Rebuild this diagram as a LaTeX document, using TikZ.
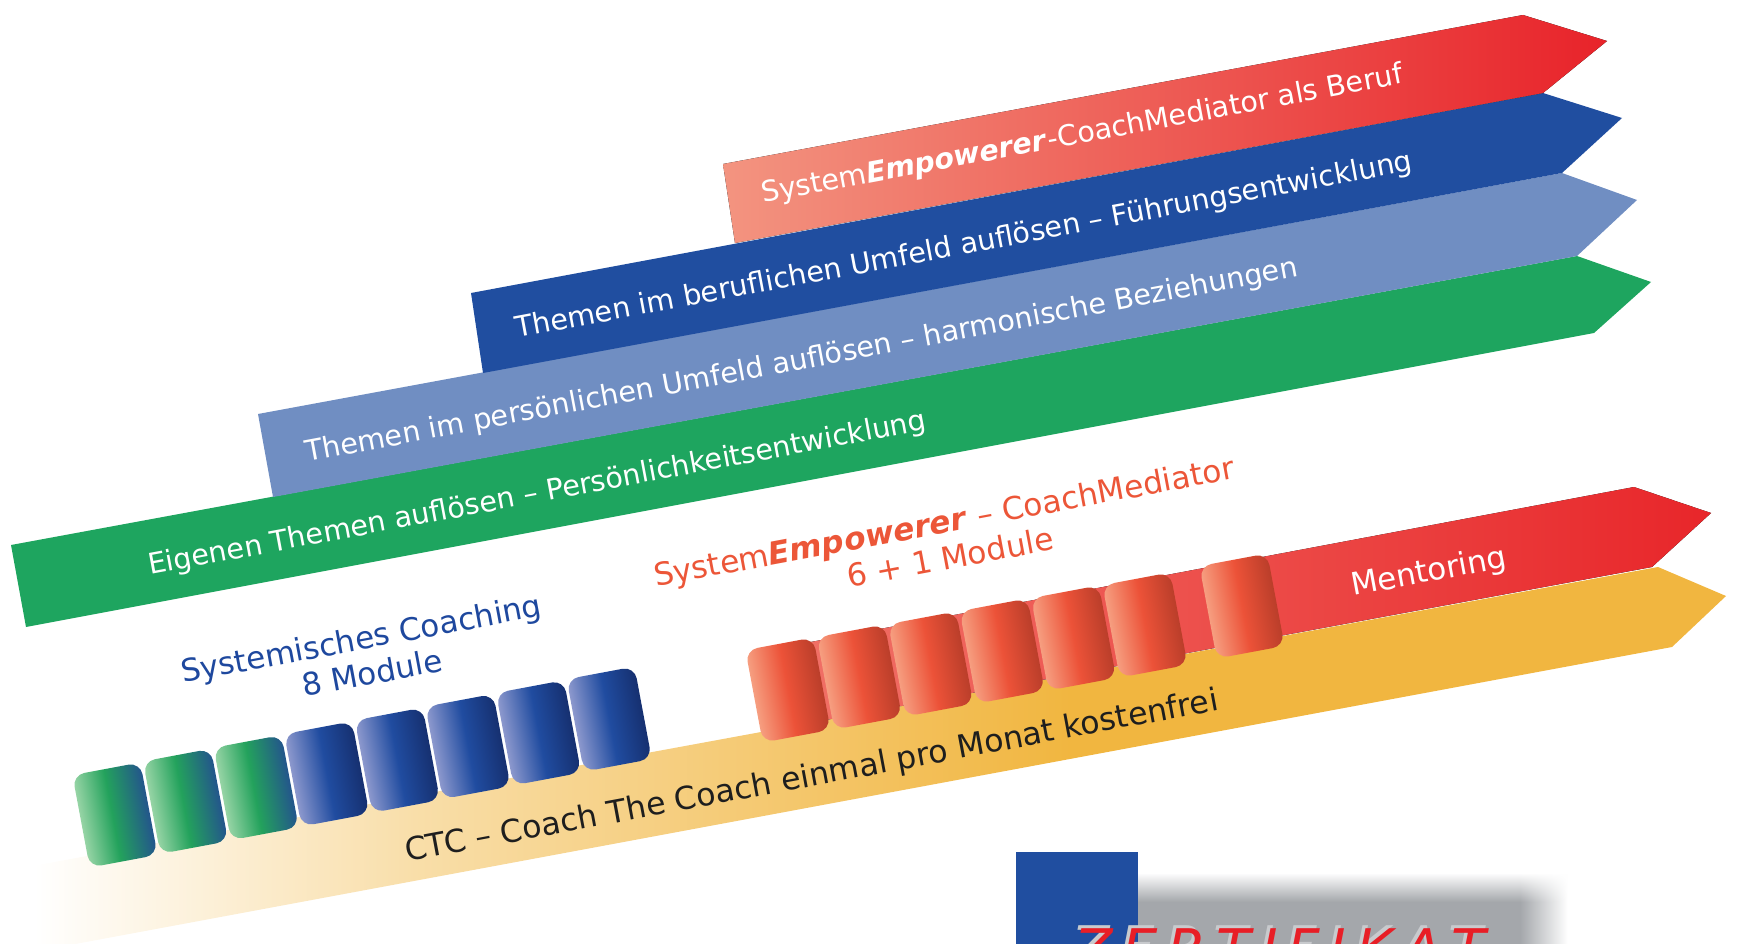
\documentclass[tikz,border=0pt]{standalone}
\usepackage{fontspec}
\setmainfont{DejaVu Sans}
\usetikzlibrary{fadings}
\definecolor{rbL}{RGB}{243,148,128}
\definecolor{rbR}{RGB}{232,35,42}
\definecolor{dblue}{RGB}{32,78,160}
\definecolor{lblue}{RGB}{112,142,194}
\definecolor{gbar}{RGB}{30,165,95}
\definecolor{mentL}{RGB}{240,112,102}
\definecolor{mentR}{RGB}{232,38,42}
\definecolor{oran}{RGB}{241,182,64}
\colorlet{oranhalf}{oran!45!white}
\definecolor{bmL}{RGB}{140,152,205}
\definecolor{bmM}{RGB}{32,76,160}
\definecolor{bmR}{RGB}{22,48,112}
\definecolor{gmL}{RGB}{150,212,165}
\definecolor{gmM}{RGB}{35,162,92}
\definecolor{gmR}{RGB}{35,85,140}
\definecolor{rmL}{RGB}{246,158,128}
\definecolor{rmM}{RGB}{236,82,56}
\definecolor{rmR}{RGB}{186,62,42}
\definecolor{ctxt}{RGB}{30,72,158}
\definecolor{otxt}{RGB}{236,86,56}
\definecolor{dtxt}{RGB}{30,30,30}
\definecolor{cgrey}{RGB}{164,167,171}
\definecolor{zred}{RGB}{232,30,38}
\definecolor{zshadow}{RGB}{200,202,205}
\pgfdeclarehorizontalshading{bluemod}{100bp}{color(0bp)=(bmL); color(25bp)=(bmL); color(50bp)=(bmM); color(75bp)=(bmR); color(100bp)=(bmR)}
\pgfdeclarehorizontalshading{greenmod}{100bp}{color(0bp)=(gmL); color(25bp)=(gmL); color(48bp)=(gmM); color(75bp)=(gmR); color(100bp)=(gmR)}
\pgfdeclarehorizontalshading{redmod}{100bp}{color(0bp)=(rmL); color(25bp)=(rmL); color(50bp)=(rmM); color(75bp)=(rmR); color(100bp)=(rmR)}
\pgfdeclarehorizontalshading{orfade}{100bp}{color(0bp)=(white); color(25bp)=(white); color(26bp)=(white); color(37bp)=(oranhalf); color(56bp)=(oran); color(100bp)=(oran)}
\pgfdeclarehorizontalshading{greyfade}{100bp}{color(0bp)=(cgrey); color(25bp)=(cgrey); color(69bp)=(cgrey); color(74.5bp)=(white); color(100bp)=(white)}
\tikzfading[name=topwhite, top color=transparent!0, bottom color=transparent!100]
\tikzset{
  bartext/.style={text=white, anchor=base west, inner sep=0pt, rotate=10.6, font=\fontsize{28.6}{34}\selectfont},
  lowtext/.style={anchor=base west, inner sep=0pt, rotate=10.6, font=\fontsize{31}{36}\selectfont},
  ztext/.style={anchor=base west, inner sep=0pt, font=\fontsize{56}{60}\selectfont\itshape},
}
\newcommand{\modbox}[3]{%
  \begin{scope}[transform canvas={shift={(#1,#2)}, rotate=10.6}]
    \path[shading=#3, rounded corners=12pt] (-34.5,-47) rectangle (34.5,47);
  \end{scope}}
\newcommand{\zword}{Z\kern10pt E\kern10pt R\kern10pt T\kern10pt I\kern10pt F\kern10pt I\kern10pt K\kern10pt A\kern10pt T}
\begin{document}
\begin{tikzpicture}[x=1pt,y=-1pt]
\useasboundingbox (0,0) rectangle (1742,944);
\clip (0,0) rectangle (1742,944);
% upper arrows
\fill[gbar] (11,545) -- (1577,256) -- (1651,282) -- (1594,333) -- (26,627) -- cycle;
\fill[lblue] (258,414) -- (1562,173) -- (1637,200) -- (1577,256) -- (273,497) -- cycle;
\fill[dblue] (471,293) -- (1543,93) -- (1622,118) -- (1562,173) -- (483,373) -- cycle;
\fill[left color=rbL, right color=rbR] (723,164) -- (1523,15) -- (1607,41) -- (1543,93) -- (735,243) -- cycle;
\node[bartext] (t1) at (763,203) {System\textbf{\textit{Empowerer}}-CoachMediator als Beruf};
\node[bartext] (t2) at (517,338) {Themen im beruflichen Umfeld auflösen – Führungsentwicklung};
\node[bartext] (t3) at (307,462) {Themen im persönlichen Umfeld auflösen – harmonische Beziehungen};
\node[bartext] (t4) at (150,575) {Eigenen Themen auflösen – Persönlichkeitsentwicklung};
% lower arrows
\path[shading=orfade] (0,872) -- (1658,567) -- (1726,596) -- (1672,647) -- (0,958) -- cycle;
\fill[left color=mentL, right color=mentR] (800,644) -- (1634,487) -- (1711,513) -- (1652,567) -- (815,722) -- cycle;
% modules
\foreach \k in {0,1,2} {\modbox{115+70.6*\k}{815-13.7*\k}{greenmod}}
\foreach \k in {3,...,7} {\modbox{115+70.6*\k}{815-13.7*\k}{bluemod}}
\foreach \k in {0,...,5} {\modbox{788+71.4*\k}{690-13*\k}{redmod}}
\modbox{1242}{606}{redmod}
% labels
\node[lowtext, text=white] (ment) at (1353,596) {Mentoring};
\node[lowtext, text=dtxt, font=\fontsize{31.6}{36}\selectfont] (ctc) at (407,862) {CTC – Coach The Coach einmal pro Monat kostenfrei};
\node[lowtext, text=ctxt] (sc1) at (183,683) {Systemisches Coaching};
\node[lowtext, text=ctxt] (sc2) at (304,697) {8 Module};
\node[lowtext, text=otxt, font=\fontsize{31.3}{36}\selectfont] (se1) at (656,587) {System\textbf{\textit{Empowerer}} – CoachMediator};
\node[lowtext, text=otxt, font=\fontsize{31.3}{36}\selectfont] (se2) at (849,588) {6 + 1 Module};
% certificate
\path[shading=greyfade] (1138,874) rectangle (1572,944);
\fill[white, path fading=topwhite] (1138,873) rectangle (1572,902);
\fill[dblue] (1016,852) rectangle (1138,944);
\node[ztext, text=zshadow] (zs) at (1071,966) {\zword};
\node[ztext, text=zred] (zt) at (1074,969) {\zword};
\end{tikzpicture}
\end{document}
